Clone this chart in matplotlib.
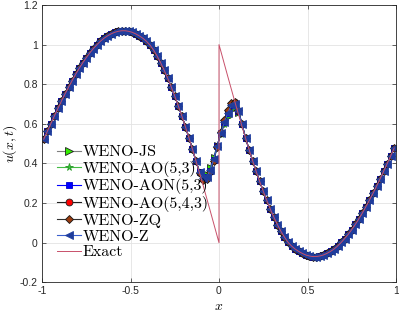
import numpy as np
import matplotlib
matplotlib.use('Agg')
import matplotlib.pyplot as plt

plt.rcParams['mathtext.fontset'] = 'cm'

# cell centres
x = np.linspace(-0.99, 0.99, 100)

# smooth part, shared by every scheme (x = -0.99 ... -0.15)
u_left = [0.522, 0.562, 0.601, 0.640, 0.678, 0.715, 0.751, 0.785, 0.818, 0.850,
          0.880, 0.908, 0.934, 0.958, 0.980, 0.999, 1.017, 1.032, 1.044, 1.054,
          1.062, 1.067, 1.070, 1.070, 1.067, 1.062, 1.054, 1.044, 1.032, 1.017,
          0.998, 0.973, 0.943, 0.909, 0.871, 0.831, 0.787, 0.740, 0.691, 0.640,
          0.586, 0.530, 0.472]
# smooth part x = 0.17 ... 0.99
u_right = [0.470, 0.414, 0.360, 0.309, 0.260, 0.213, 0.169, 0.129, 0.091, 0.057,
           0.028, 0.002, -0.017, -0.032, -0.044, -0.054, -0.062, -0.067, -0.070, -0.070,
           -0.067, -0.062, -0.054, -0.044, -0.032, -0.017, 0.001, 0.021, 0.042, 0.066,
           0.092, 0.120, 0.150, 0.182, 0.215, 0.249, 0.285, 0.322, 0.360, 0.399,
           0.438, 0.478]

# near the jump, x = -0.13 ... 0.15
near_js   = [0.414, 0.362, 0.338, 0.348, 0.382, 0.432, 0.493, 0.546, 0.592, 0.634, 0.668, 0.680, 0.655, 0.598, 0.530]
near_ao53 = [0.412, 0.358, 0.330, 0.338, 0.372, 0.425, 0.490, 0.550, 0.600, 0.646, 0.684, 0.692, 0.660, 0.598, 0.529]
near_aon  = [0.410, 0.356, 0.325, 0.330, 0.364, 0.419, 0.488, 0.554, 0.609, 0.657, 0.696, 0.702, 0.664, 0.598, 0.529]
near_ao543 = [0.411, 0.354, 0.320, 0.325, 0.360, 0.416, 0.486, 0.556, 0.614, 0.663, 0.702, 0.708, 0.666, 0.597, 0.528]
near_zq   = [0.411, 0.353, 0.318, 0.322, 0.356, 0.412, 0.484, 0.558, 0.618, 0.668, 0.706, 0.712, 0.668, 0.597, 0.528]
near_z    = [0.410, 0.356, 0.326, 0.332, 0.366, 0.420, 0.488, 0.553, 0.607, 0.655, 0.694, 0.700, 0.663, 0.598, 0.529]

# exact solution near the jump
exact_left_near = [0.413, 0.352, 0.290, 0.226, 0.162, 0.097, 0.032]
exact_jump = [0.0, 1.0]
exact_right_near = [0.968, 0.903, 0.838, 0.774, 0.710, 0.648, 0.587, 0.528]

x_exact = np.concatenate((x[:50], [0.0, 0.0], x[50:]))
u_exact = u_left + exact_left_near + exact_jump + exact_right_near + u_right

schemes = [
    ('WENO-JS',      near_js,    dict(color='#7f7f7f', marker='>', mfc='#33ee00', mec='#202020', ms=5)),
    ('WENO-AO(5,3)', near_ao53,  dict(color='#44bb44', marker='*', mfc='#33cc33', mec='#2a9a2a', ms=5)),
    ('WENO-AON(5,3)', near_aon,  dict(color='#0000ff', marker='s', mfc='#0000ff', mec='#0000cc', ms=4)),
    ('WENO-AO(5,4,3)', near_ao543, dict(color='#202020', marker='o', mfc='#ff0000', mec='#202020', ms=4.5)),
    ('WENO-ZQ',      near_zq,    dict(color='#303030', marker='D', mfc='#9a3c10', mec='#151515', ms=3.8)),
    ('WENO-Z',       near_z,     dict(color='#3a5fcd', marker='<', mfc='#1f3c9c', mec='#22409f', ms=5.5)),
]

fig = plt.figure(figsize=(3.99, 3.13), dpi=100)
ax = fig.add_axes([42/399, 1 - 282.3/313, 354/399, 277.3/313])

for name, near, st in schemes:
    u = u_left + near + u_right
    ax.plot(x, u, lw=0.8, mew=0.6, label=name, **st)

ax.plot(x_exact, u_exact, color='#c8506a', lw=0.7, label='Exact')

ax.set_xlim(-1, 1)
ax.set_ylim(-0.2, 1.2)
ax.set_xticks([-1, -0.5, 0, 0.5, 1])
ax.set_xticklabels(['-1', '-0.5', '0', '0.5', '1'])
ax.set_yticks([-0.2, 0, 0.2, 0.4, 0.6, 0.8, 1.0, 1.2])
ax.set_yticklabels(['-0.2', '0', '0.2', '0.4', '0.6', '0.8', '1', '1.2'])
for lab in ax.get_xticklabels() + ax.get_yticklabels():
    lab.set_family('Liberation Sans')
    lab.set_fontsize(7.5)
    lab.set_color('#262626')

ax.tick_params(direction='in', length=3, width=0.5, top=True, right=True, colors='#262626', pad=3)
for s in ax.spines.values():
    s.set_linewidth(0.6)
    s.set_color('#262626')
ax.grid(True, color='#e3e3e3', lw=0.6)
ax.set_axisbelow(True)

ax.set_xlabel('$x$', fontsize=10)
ax.set_ylabel('$u(x,t)$', fontsize=10)
ax.xaxis.set_label_coords(0.5, -0.062)
ax.yaxis.set_label_coords(-0.066, 0.5)

leg = ax.legend(loc='upper left', bbox_to_anchor=(0.025, 0.518), frameon=False,
                prop={'family': 'cmr10', 'size': 11.5}, handlelength=1.5,
                handletextpad=0.1, labelspacing=0.1, borderaxespad=0, markerscale=1.1)

fig.savefig('out.png', dpi=100)
